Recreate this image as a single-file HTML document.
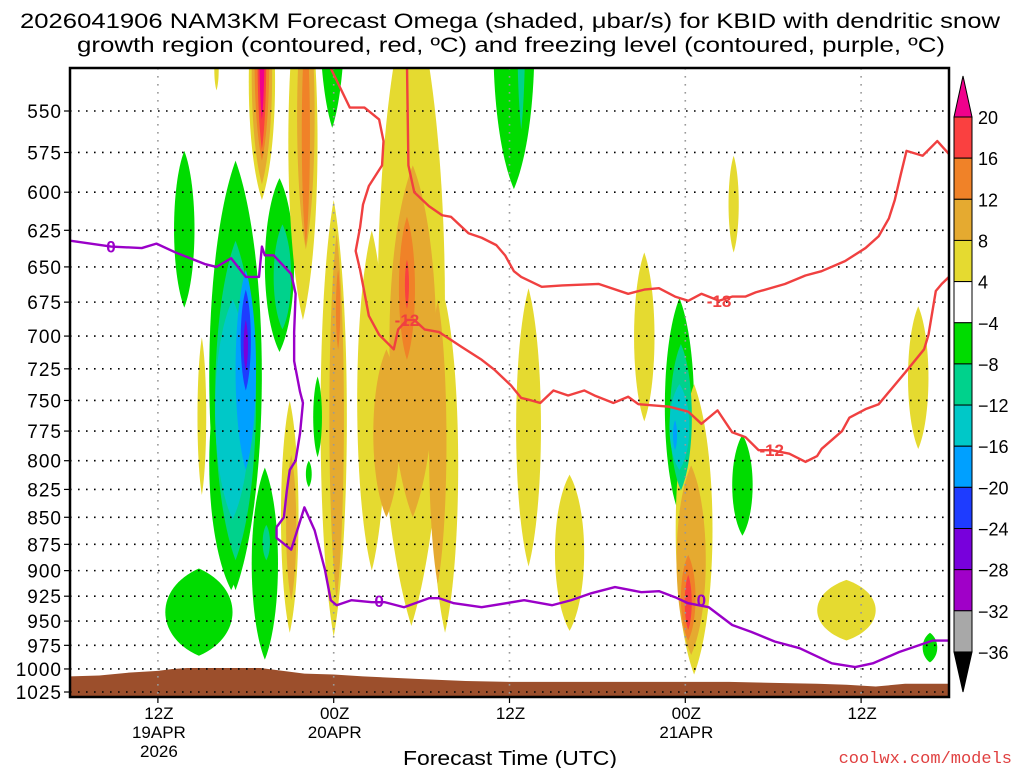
<!DOCTYPE html>
<html><head><meta charset="utf-8"><style>
html,body{margin:0;padding:0;background:#fff;}
svg{display:block;font-family:"Liberation Sans","DejaVu Sans",sans-serif;}
</style></head><body>
<svg id="chart" width="1024" height="768" viewBox="0 0 1024 768" xmlns="http://www.w3.org/2000/svg">
<defs><clipPath id="plotclip"><rect x="70" y="68" width="879" height="629"/></clipPath></defs>
<text x="20" y="28" font-size="21" textLength="980" lengthAdjust="spacingAndGlyphs" fill="#000">2026041906 NAM3KM Forecast Omega (shaded, μbar/s) for KBID with dendritic snow</text>
<text x="77" y="52" font-size="21" textLength="868" lengthAdjust="spacingAndGlyphs" fill="#000">growth region (contoured, red, ºC) and freezing level (contoured, purple, ºC)</text>
<g id="plot" clip-path="url(#plotclip)"></g>
<g id="grid"></g>
<g id="lines" clip-path="url(#plotclip)"></g>
<rect x="70" y="68" width="879" height="629" fill="none" stroke="#000" stroke-width="2.5"/>
<g id="axes"></g>
<g id="cbar"></g>
<text x="510" y="765" font-size="20" text-anchor="middle" textLength="214" lengthAdjust="spacingAndGlyphs">Forecast Time (UTC)</text>
<text x="1012" y="763" font-size="17" text-anchor="end" fill="#e04040" font-family="Liberation Mono, monospace">coolwx.com/models</text>
</svg>
<script>
// ---- data ----
const pressureTicks=[550,575,600,625,650,675,700,725,750,775,800,825,850,875,900,925,950,975,1000,1025];
const timeTickHours=[6,18,30,42,54];
const timeTickLabels=[["12Z","19APR","2026"],["00Z","20APR"],["12Z"],["00Z","21APR"],["12Z"]];
const cbLevels=[20,16,12,8,4,-4,-8,-12,-16,-20,-24,-28,-32,-36];
const cbColors=["#fa4040","#f08228","#e5aa30","#e5da30","#ffffff","#00dc00","#00d28c","#00c8c8","#00a0ff","#1e3cff","#7800dc","#a000c8","#a8a8a8"];
const blobHour=[7.8,11.3,11.0,11.3,11.1,12.0,12.0,12.0,14.3,14.5,13.3,13.4,8.8,9.0,10.0,13.1,13.1,13.1,13.1,13.1,15.9,16.1,16.1,17.9,18.0,18.2,18.3,15.0,15.1,16.9,16.3,23.3,20.6,25.6,23.4,21.6,25.1,23.0,23.0,30.3,30.8,31.3,34.1,39.2,41.6,41.7,41.6,41.3,42.6,42.4,42.2,42.2,45.9,45.3,53.0,57.9,58.7];
const blobPTop=[574,580,700,632,673,652,666,688,591,621,806,857,898,701,515,470,470,470,470,480,470,480,500,440,605,627,652,750,795,731,800,480,625,673,583,710,673,616,645,440,450,665,812,640,672,706,737,766,737,804,885,904,778,577,909,678,962];
const blobPBot=[679,919,919,890,852,808,742,726,712,695,990,890,986,830,538,605,595,580,573,555,688,638,635,560,966,929,710,962,929,797,823,955,900,962,850,850,913,718,680,598,561,896,960,767,848,826,808,791,1006,985,970,959,867,640,970,790,993];
const blobHalfWidth=[0.7,1.8,1.5,1.4,1.2,0.7,0.35,0.15,1.0,0.6,0.9,0.25,2.3,0.3,0.15,0.9,0.7,0.5,0.3,0.17,1.0,0.6,0.28,0.85,0.9,0.5,0.15,0.6,0.35,0.3,0.2,2.3,1.0,0.9,1.6,0.9,0.6,0.55,0.14,1.4,0.27,0.85,1.0,0.7,1.0,0.75,0.68,0.14,1.26,1.0,0.5,0.24,0.7,0.35,2.0,0.7,0.5];
const blobLevel=[-4,-4,-4,-8,-12,-16,-20,-24,-4,-8,-4,-8,-4,4,4,4,8,12,16,20,4,8,12,-4,4,8,12,4,8,-4,-4,4,4,4,8,8,8,12,16,-4,-8,4,4,4,-4,-8,-12,-16,4,8,12,16,-4,4,4,4,-4];
const terrainHours=[0,2,4,6,7,8,12,13,14,15,16,18,20,24,27,30,36,42,45,48,51,53,55,57,60];
const terrainPress=[1008,1007,1004,1002,1000,999,999,999,1001,1003,1005,1006,1008,1011,1013,1014,1014,1014,1014,1015,1016,1017,1019,1016,1016];
const m12Hours=[17.6,19.1,20.1,21.1,21.4,21.3,20.4,20.0,19.8,19.5,19.8,20.4,21.1,22.1,22.4,23.0,23.5,24.2,25.2,26.7,28.1,29.0,30.1,30.8,31.5,32.1,33.0,34.0,35.1,35.8,37.1,38.1,38.8,40.9,42.2,43.1,44.2,45.2,46.1,47.0,47.9,49.1,50.2,51.0,51.3,52.7,53.2,54.3,55.2,57.0,58.3,58.6,59.1,59.5,60];
const m12Press=[522,548,548,555,568,583,596,608,623,639,652,685,699,710,695,688,688,695,697,708,718,726,738,748,750,752,742,746,742,746,752,747,753,755,759,769,758,776,780,791,791,794,801,796,790,775,764,757,753,728,710,699,667,662,657];
const m18Hours=[23.0,23.1,23.5,24.5,25.4,26.0,27.2,28.1,29.1,29.7,30.3,30.8,32.2,33.6,36.1,38.1,39.2,40.2,41.3,42.2,43.1,44.3,45.2,46.1,46.8,48.8,50.2,51.3,52.9,54.3,55.2,55.9,56.3,56.7,57.1,58.2,59.2,60];
const m18Press=[522,583,600,609,615,616,627,630,635,642,653,657,664,663,662,669,666,665,671,674,669,674,671,671,668,662,656,653,646,637,629,617,605,589,574,577,568,576];
const frzHours=[0,2.8,4.9,5.9,7.2,9.2,10.0,11.0,12.0,12.9,13.1,13.3,13.9,15.1,15.4,15.3,15.3,15.7,15.9,15.7,15.4,15.0,14.8,14.6,14.1,14.1,15.1,16.0,16.7,17.4,17.8,18.2,19.2,20.6,21.5,22.8,24.5,25.2,26.2,28.1,31.0,32.9,34.2,35.6,37.2,39.0,40.2,41.3,42.2,43.6,45.2,46.5,48.1,49.8,52.0,53.6,54.8,56.6,58.9,60];
const frzPress=[632,636,637,634,640,648,650,644,657,657,636,642,642,655,669,697,719,743,752,777,800,808,826,850,859,869,880,841,862,899,929,934,929,931,931,936,927,927,932,936,929,934,929,922,916,921,920,926,932,936,954,961,971,978,994,998,994,982,970,970];
const contourLabelText=["-12","-12","-18","0","0","0"];
const contourLabelHours=[23.0,47.9,44.3,2.8,21.1,43.1];
const contourLabelPress=[688,791,674,636,930,929];
const contourLabelColor=["#f04040","#f04040","#f04040","#9a00c8","#9a00c8","#9a00c8"];

// ---- axes ----
const NS="http://www.w3.org/2000/svg";
const X0=70,X1=949,H0=0,H1=60;
function xs(h){return X0+(h-H0)*(X1-X0)/(H1-H0);}
function ys(p){return 111+933.3*Math.log(p/550);}
function mk(tag,attrs,parent){const e=document.createElementNS(NS,tag);for(const k in attrs)e.setAttribute(k,attrs[k]);parent.appendChild(e);return e;}
function levelColor(l){const i=cbLevels.indexOf(l);if(l>=20)return "#f0008c";if(l>0)return cbColors[cbLevels.indexOf(l+4)];return cbColors[i];}

const plot=document.getElementById('plot');
const idx=blobHour.map((_,i)=>i).sort((a,b)=>Math.abs(blobLevel[a])-Math.abs(blobLevel[b]));
idx.forEach(i=>{
  const cx=xs(blobHour[i]),yt=ys(blobPTop[i]),yb=ys(blobPBot[i]);
  const rx=blobHalfWidth[i]*(X1-X0)/(H1-H0)*1.33,ry=(yb-yt)/2;
  const d=`M${cx},${yt} C${cx+rx},${yt+ry*0.45} ${cx+rx},${yb-ry*0.45} ${cx},${yb} C${cx-rx},${yb-ry*0.45} ${cx-rx},${yt+ry*0.45} ${cx},${yt} Z`;
  const el=mk('path',{d:d,fill:levelColor(blobLevel[i])},plot);
  
  
});
let td=`M${xs(terrainHours[0])},700`;
terrainHours.forEach((h,i)=>{td+=` L${xs(h)},${ys(terrainPress[i])}`;});
td+=` L${xs(terrainHours[terrainHours.length-1])},700 Z`;
const terr=mk('path',{d:td,fill:"#9c4f2c"},plot);



const grid=document.getElementById('grid');
pressureTicks.forEach(p=>{
  const g=mk('line',{x1:X0,x2:X1,y1:ys(p),y2:ys(p),stroke:"#000","stroke-width":1.6,"stroke-dasharray":"1.6 6.4"},grid);
  
  
});
timeTickHours.forEach(h=>{
  const g=mk('line',{x1:xs(h),x2:xs(h),y1:68,y2:697,stroke:"#999","stroke-width":1.6,"stroke-dasharray":"1.6 6.4"},grid);
  
  
});

const lines=document.getElementById('lines');
function pline(hs,ps,color,name){
  const pts=hs.map((h,i)=>xs(h)+','+ys(ps[i])).join(' ');
  const el=mk('polyline',{points:pts,fill:"none",stroke:color,"stroke-width":2.4,"stroke-linejoin":"round"},lines);
  
  
}
pline(m12Hours,m12Press,"#f04040","contour-minus12");
pline(m18Hours,m18Press,"#f04040","contour-minus18");
pline(frzHours,frzPress,"#9a00c8","freezing-level");
contourLabelText.forEach((t,i)=>{
  const el=mk('text',{x:xs(contourLabelHours[i]),y:ys(contourLabelPress[i])+6,"font-size":17,"font-weight":"bold","text-anchor":"middle",fill:contourLabelColor[i]},lines);
  el.textContent=t;
  
  
});

const axes=document.getElementById('axes');
pressureTicks.forEach(p=>{
  const t=mk('line',{x1:64,x2:70,y1:ys(p),y2:ys(p),stroke:"#000","stroke-width":1.2},axes);
  
  
  const l=mk('text',{x:62,y:ys(p)+7,"font-size":19,"text-anchor":"end","letter-spacing":"1"},axes);
  l.textContent=p;
  
  
});
timeTickHours.forEach((h,i)=>{
  const t=mk('line',{x1:xs(h),x2:xs(h),y1:697,y2:703,stroke:"#000","stroke-width":1.2},axes);
  
  
  timeTickLabels[i].forEach((s,j)=>{
    const l=mk('text',{x:xs(h)+1,y:719+j*19,"font-size":17,"text-anchor":"middle"},axes);
    l.textContent=s;
    
    
  });
});

const cb=document.getElementById('cbar');
const CBX=954,CBW=18,CBY0=117,CBS=41.15;
const tt=mk('polygon',{points:`${CBX},${CBY0} ${CBX+CBW},${CBY0} ${CBX+CBW/2},76`,fill:"#f0008c",stroke:"#000","stroke-width":1},cb);


cbColors.forEach((c,i)=>{
  const r=mk('rect',{x:CBX,y:CBY0+i*CBS,width:CBW,height:CBS,fill:c,stroke:"#000","stroke-width":1},cb);
  
  
});
const yb=CBY0+cbColors.length*CBS;
const bt=mk('polygon',{points:`${CBX},${yb} ${CBX+CBW},${yb} ${CBX+CBW/2},692`,fill:"#000",stroke:"#000","stroke-width":1},cb);


cbLevels.forEach((v,i)=>{
  const l=mk('text',{x:978,y:CBY0+i*CBS+7,"font-size":18},cb);
  l.textContent=v<0?"\u2212"+(-v):String(v);
  
  
});
</script>
</body></html>
